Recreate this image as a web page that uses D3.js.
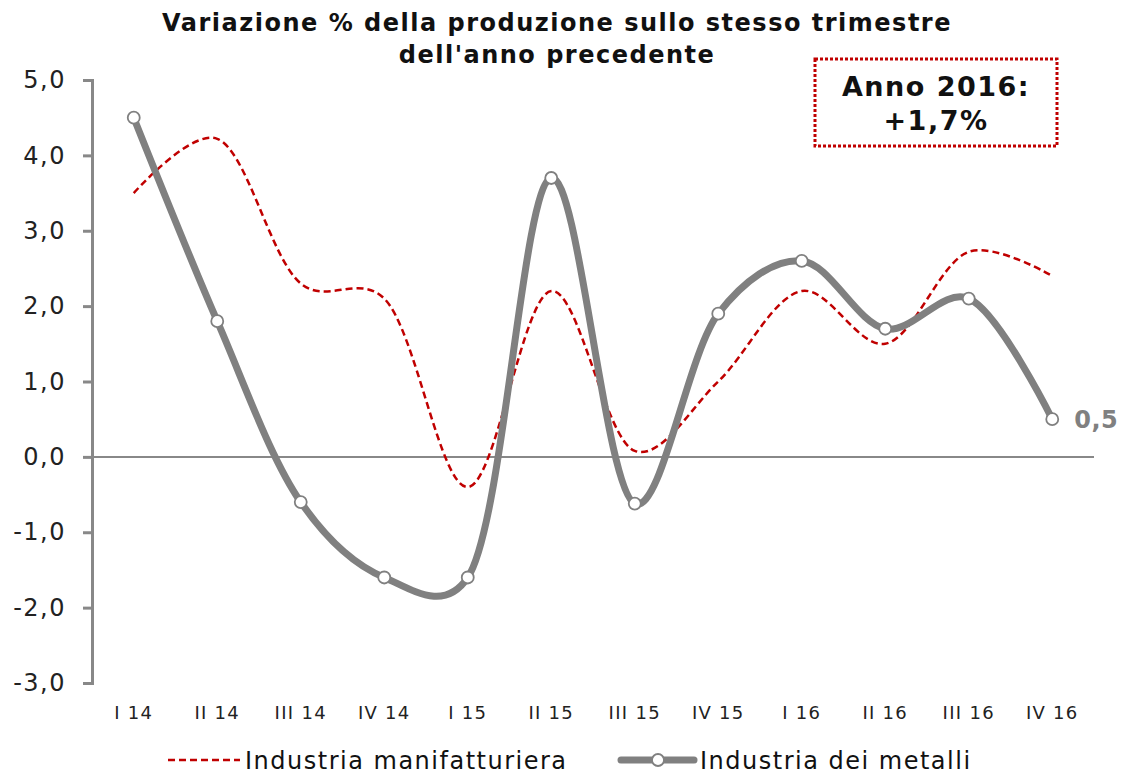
<!DOCTYPE html>
<html>
<head>
<meta charset="utf-8">
<script src="https://cdn.jsdelivr.net/npm/d3@7"></script>
<style>
  body { margin: 0; background: #fff; }
  text { font-family: "DejaVu Sans", Verdana, sans-serif; }
</style>
</head>
<body>
<svg id="chart" width="1124" height="774"></svg>
<script>
const quarters = ["I 14", "II 14", "III 14", "IV 14", "I 15", "II 15", "III 15", "IV 15", "I 16", "II 16", "III 16", "IV 16"];
const manifatturiera = [3.5, 4.22, 2.3, 2.1, -0.4, 2.2, 0.08, 1.0, 2.2, 1.5, 2.72, 2.4];
const metalli = [4.5, 1.8, -0.6, -1.6, -1.6, 3.7, -0.62, 1.9, 2.6, 1.7, 2.1, 0.5];
const yTicks = [-3, -2, -1, 0, 1, 2, 3, 4, 5];

const svg = d3.select("#chart");
const margin = { top: 80, right: 30, bottom: 91, left: 92 };
const width = 1124 - margin.left - margin.right;
const height = 774 - margin.top - margin.bottom;

const x = d3.scalePoint()
  .domain(quarters)
  .range([0, width])
  .padding(0.5);

const y = d3.scaleLinear()
  .domain([-3, 5])
  .range([height, 0]);

// comma decimals and a plain hyphen for negatives, as in the original
const fmt = d => d.toFixed(1).replace(".", ",");

const g = svg.append("g")
  .attr("transform", `translate(${margin.left},${margin.top})`);

// title
const title = svg.append("text")
  .attr("text-anchor", "middle")
  .style("font-size", "24px").style("font-weight", "bold")
  .style("letter-spacing", "1.5px").attr("fill", "#111");
title.append("tspan").attr("x", 557).attr("y", 31)
  .text("Variazione % della produzione sullo stesso trimestre");
title.append("tspan").attr("x", 557).attr("y", 63)
  .text("dell'anno precedente");

// y axis
const yAxis = g.append("g")
  .call(d3.axisLeft(y).tickValues(yTicks).tickFormat(fmt).tickSizeOuter(0).tickSize(9).tickPadding(17));
yAxis.select(".domain").attr("stroke", "#888").attr("stroke-width", 3);
yAxis.selectAll(".tick line").attr("stroke", "#888").attr("stroke-width", 3);
yAxis.selectAll(".tick text")
  .style("font-size", "24px").style("letter-spacing", "1.5px")
  .style("font-family", "'DejaVu Sans', sans-serif").attr("fill", "#222");

// zero line
g.append("line")
  .attr("x1", 0).attr("x2", width)
  .attr("y1", y(0)).attr("y2", y(0))
  .attr("stroke", "#888").attr("stroke-width", 2);

// x labels
g.append("g")
  .selectAll("text")
  .data(quarters)
  .join("text")
  .attr("x", d => x(d))
  .attr("y", height + 36)
  .attr("text-anchor", "middle")
  .style("font-size", "18px").style("letter-spacing", "1.3px").attr("fill", "#222")
  .text(d => d);

const line = d3.line()
  .x((d, i) => x(quarters[i]))
  .y(d => y(d))
  .curve(d3.curveCatmullRom.alpha(0.25));

g.append("path")
  .datum(manifatturiera)
  .attr("d", line)
  .attr("fill", "none")
  .attr("stroke", "#c00000")
  .attr("stroke-width", 2.5)
  .attr("stroke-dasharray", "7,4");

g.append("path")
  .datum(metalli)
  .attr("d", line)
  .attr("fill", "none")
  .attr("stroke", "#808080")
  .attr("stroke-width", 7)
  .attr("stroke-linecap", "round");

g.selectAll("circle.pt")
  .data(metalli)
  .join("circle")
  .attr("class", "pt")
  .attr("cx", (d, i) => x(quarters[i]))
  .attr("cy", d => y(d))
  .attr("r", 6)
  .attr("fill", "#fff")
  .attr("stroke", "#808080")
  .attr("stroke-width", 1.8);

// last value label
const last = metalli.length - 1;
g.append("text")
  .attr("x", x(quarters[last]) + 22)
  .attr("y", y(metalli[last]) + 9)
  .style("font-size", "24px").style("font-weight", "bold").style("letter-spacing", "0.5px")
  .attr("fill", "#808080")
  .text(fmt(metalli[last]));

// annotation box
svg.append("rect")
  .attr("x", 815).attr("y", 59)
  .attr("width", 242).attr("height", 87)
  .attr("fill", "#fff")
  .attr("stroke", "#c00000").attr("stroke-width", 3)
  .attr("stroke-dasharray", "3,2");
const note = svg.append("text")
  .attr("text-anchor", "middle")
  .style("font-size", "27px").style("font-weight", "bold")
  .style("letter-spacing", "1.5px").attr("fill", "#111");
note.append("tspan").attr("x", 936).attr("y", 96).text("Anno 2016:");
note.append("tspan").attr("x", 936).attr("y", 130).text("+1,7%");

// legend
const leg = svg.append("g");
leg.append("line")
  .attr("x1", 168).attr("x2", 240).attr("y1", 760).attr("y2", 760)
  .attr("stroke", "#c00000").attr("stroke-width", 2.5).attr("stroke-dasharray", "7,4");
leg.append("text")
  .attr("x", 245).attr("y", 769)
  .style("font-size", "24px").style("letter-spacing", "1.5px").attr("fill", "#111")
  .text("Industria manifatturiera");
leg.append("line")
  .attr("x1", 621).attr("x2", 694).attr("y1", 760).attr("y2", 760)
  .attr("stroke", "#808080").attr("stroke-width", 7).attr("stroke-linecap", "round");
leg.append("circle")
  .attr("cx", 658).attr("cy", 760).attr("r", 6)
  .attr("fill", "#fff").attr("stroke", "#808080").attr("stroke-width", 1.8);
leg.append("text")
  .attr("x", 700).attr("y", 769)
  .style("font-size", "24px").style("letter-spacing", "1.5px").attr("fill", "#111")
  .text("Industria dei metalli");
</script>
</body>
</html>
